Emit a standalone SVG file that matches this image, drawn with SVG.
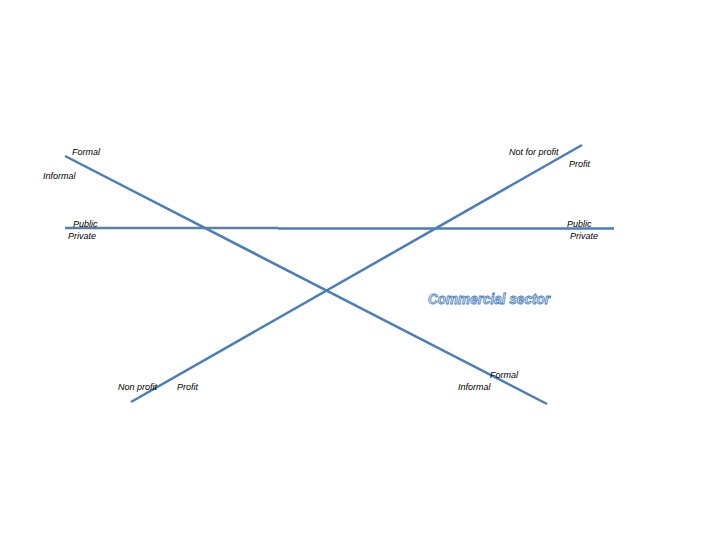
<svg xmlns="http://www.w3.org/2000/svg" width="720" height="540" viewBox="0 0 720 540">
<style>
.ln{stroke:#4a7ebb;stroke-width:2.5;fill:none}
.lbl{font-family:"Liberation Sans",Arial,sans-serif;font-size:9px;font-style:italic;fill:#000}
.big{font-family:"Liberation Sans",Arial,sans-serif;font-size:14px;font-weight:bold;font-style:italic;fill:#d6e6f8;stroke:#4a7ebb;stroke-width:0.8}
</style>
<rect width="720" height="540" fill="#fff"/>
<g id="connectors">
<line class="ln" x1="65" y1="156" x2="547" y2="404"/>
<line class="ln" x1="131" y1="402" x2="582" y2="145"/>
<line class="ln" x1="65" y1="228" x2="278" y2="228" style="stroke:#5a7f9f"/>
<line class="ln" x1="278" y1="228.5" x2="614" y2="228.5"/>
</g>
<g id="labels-left">
<text class="lbl" x="72" y="155">Formal</text>
<text class="lbl" x="43" y="179">Informal</text>
<text class="lbl" x="73" y="227">Public</text>
<text class="lbl" x="68" y="239">Private</text>
</g>
<g id="labels-right">
<text class="lbl" x="509" y="155">Not for profit</text>
<text class="lbl" x="569" y="167">Profit</text>
<text class="lbl" x="567" y="227">Public</text>
<text class="lbl" x="570" y="239">Private</text>
</g>
<g id="labels-bottom">
<text class="lbl" x="118" y="390">Non profit</text>
<text class="lbl" x="177" y="390">Profit</text>
<text class="lbl" x="490" y="378">Formal</text>
<text class="lbl" x="458" y="390">Informal</text>
</g>
<g id="commercial">
<text class="big" x="428" y="304" textLength="122" lengthAdjust="spacingAndGlyphs">Commercial sector</text>
</g>
</svg>
